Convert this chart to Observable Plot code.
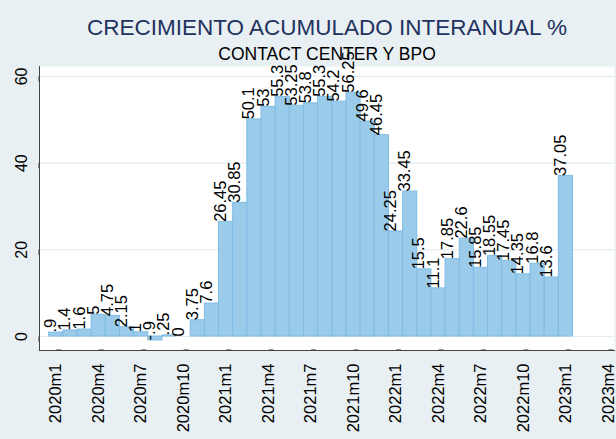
<!DOCTYPE html>
<html>
<head>
<meta charset="utf-8">
<script src="https://cdn.jsdelivr.net/npm/d3@7"></script>
<script src="https://cdn.jsdelivr.net/npm/@observablehq/plot@0.6"></script>
<style>
  html, body { margin: 0; padding: 0; background: #e9f0f3; }
  #chart { width: 616px; height: 439px; overflow: hidden; }
</style>
</head>
<body>
<div id="chart"></div>
<script>
const title = "CRECIMIENTO ACUMULADO INTERANUAL %";
const subtitle = "CONTACT CENTER Y BPO";

const months = [
  "2020m1","2020m2","2020m3","2020m4","2020m5","2020m6","2020m7","2020m8","2020m9","2020m10","2020m11","2020m12",
  "2021m1","2021m2","2021m3","2021m4","2021m5","2021m6","2021m7","2021m8","2021m9","2021m10","2021m11","2021m12",
  "2022m1","2022m2","2022m3","2022m4","2022m5","2022m6","2022m7","2022m8","2022m9","2022m10","2022m11","2022m12",
  "2023m1"
];
const growth = [
  0.9, 1.4, 1.6, 5, 4.75, 2.15, 1, -0.9, 0.25, 0, 3.75, 7.6,
  26.45, 30.85, 50.1, 53, 55.3, 53.25, 53.8, 55.3, 54.2, 56.25, 49.6, 46.45,
  24.25, 33.45, 15.5, 11.1, 17.85, 22.6, 15.85, 18.55, 17.45, 14.35, 16.8, 13.6,
  37.05
];
const tickIndex = [0, 3, 6, 9, 12, 15, 18, 21, 24, 27, 30, 33, 36, 39];
const tickLabels = ["2020m1","2020m4","2020m7","2020m10","2021m1","2021m4","2021m7","2021m10","2022m1","2022m4","2022m7","2022m10","2023m1","2023m4"];
const yTicks = [0, 20, 40, 60];

const data = months.map((m, i) => ({i, month: m, value: growth[i]}));
const fmt = v => String(v).replace(/^(-?)0\./, "$1.");

const font = "'Liberation Sans', Arial, Helvetica, sans-serif";

const chart = Plot.plot({
  width: 616,
  height: 439,
  marginLeft: 39,
  marginRight: 2,
  marginTop: 66,
  marginBottom: 89,
  style: {background: "transparent", fontFamily: font, color: "#000", overflow: "visible"},
  x: {type: "linear", domain: [-1.18, 39.43]},
  y: {domain: [-3.23, 62.3]},
  marks: [
    Plot.frame({fill: "white", stroke: "none"}),
    Plot.text([title], {text: d => d, frameAnchor: "top", dy: -31.5, lineAnchor: "bottom", fontSize: 22.5, fill: "#22325e"}),
    Plot.text([subtitle], {text: d => d, frameAnchor: "top", dy: -7, lineAnchor: "bottom", fontSize: 17.5, fill: "#000"}),
    Plot.gridY(yTicks, {stroke: "#e3ecef", strokeOpacity: 1, strokeWidth: 1.2}),
    Plot.rectY(data, {x1: d => d.i - 0.5, x2: d => d.i + 0.5, y1: 0, y2: "value", fill: "#9bcbea", stroke: "#7fbbe3", strokeWidth: 1}),
    Plot.text(data, {x: "i", y: "value", text: d => fmt(d.value), rotate: -90, textAnchor: "start", lineAnchor: "bottom", fontSize: 16.5, fill: "#000"}),
    Plot.axisY(yTicks, {tickSize: 5, tickPadding: 8, rotate: -90, textAnchor: "middle", lineAnchor: "bottom", fontSize: 16, stroke: "#333", fill: "#000", label: null}),
    Plot.axisX(tickIndex, {tickSize: 5, tickPadding: 8, rotate: -90, textAnchor: "end", lineAnchor: "middle", fontSize: 16.5, stroke: "#333", fill: "#000", label: null,
      tickFormat: d => tickLabels[tickIndex.indexOf(d)]}),
    Plot.frame({anchor: "left", stroke: "#444"}),
    Plot.frame({anchor: "bottom", stroke: "#444"})
  ]
});
document.getElementById("chart").appendChild(chart);
</script>
</body>
</html>
